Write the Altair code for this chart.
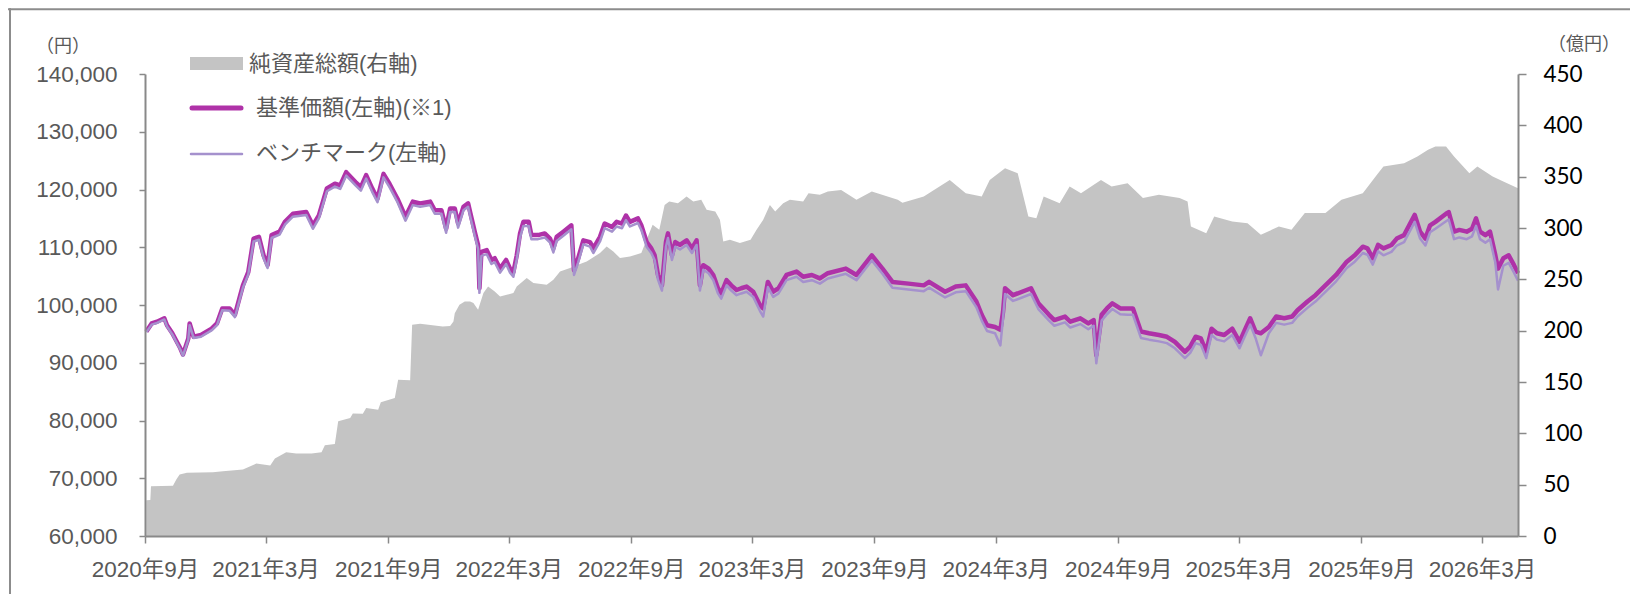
import altair as alt
import pandas as pd

# ---------------- data ----------------
NAV_DATES = [
    "2020-09-03", "2020-09-11", "2020-09-19", "2020-09-30", "2020-10-04", "2020-10-12", "2020-10-24", "2020-10-28",
    "2020-11-05", "2020-11-07", "2020-11-13", "2020-11-24", "2020-12-10", "2020-12-18", "2020-12-26",
    "2021-01-06", "2021-01-14", "2021-01-22", "2021-01-26", "2021-02-03", "2021-02-11", "2021-02-19", "2021-02-26",
    "2021-03-04", "2021-03-10", "2021-03-22", "2021-03-30", "2021-04-11", "2021-05-01", "2021-05-11", "2021-05-20",
    "2021-06-01", "2021-06-13", "2021-06-21", "2021-06-30", "2021-07-14", "2021-07-22", "2021-07-30", "2021-08-08",
    "2021-08-16", "2021-08-25", "2021-09-03", "2021-09-15", "2021-09-27", "2021-10-08", "2021-10-19", "2021-11-03",
    "2021-11-10", "2021-11-20", "2021-11-27", "2021-12-03", "2021-12-10", "2021-12-15", "2021-12-23", "2021-12-30",
    "2022-01-02", "2022-01-09", "2022-01-14", "2022-01-16", "2022-01-19", "2022-01-27", "2022-02-03", "2022-02-08",
    "2022-02-16", "2022-02-25", "2022-03-03", "2022-03-08", "2022-03-13", "2022-03-18", "2022-03-23", "2022-03-31",
    "2022-04-04", "2022-04-14", "2022-04-24", "2022-05-02", "2022-05-07", "2022-05-12", "2022-05-22", "2022-06-03",
    "2022-06-07", "2022-06-13", "2022-06-21", "2022-07-01", "2022-07-06", "2022-07-16", "2022-07-23", "2022-08-03",
    "2022-08-10", "2022-08-18", "2022-08-24", "2022-08-30", "2022-09-11", "2022-09-16", "2022-09-24", "2022-10-01",
    "2022-10-06", "2022-10-11", "2022-10-17", "2022-10-23", "2022-10-26", "2022-11-01", "2022-11-06", "2022-11-13",
    "2022-11-23", "2022-12-01", "2022-12-08", "2022-12-13", "2022-12-18", "2022-12-26", "2023-01-02", "2023-01-09",
    "2023-01-14", "2023-01-22", "2023-01-29", "2023-02-06", "2023-02-13", "2023-02-21", "2023-03-03", "2023-03-13",
    "2023-03-18", "2023-03-25", "2023-04-02", "2023-04-10", "2023-04-22", "2023-05-07", "2023-05-17", "2023-05-30",
    "2023-06-11", "2023-06-23", "2023-07-20", "2023-08-05", "2023-08-28", "2023-09-13", "2023-09-28", "2023-10-22",
    "2023-11-14", "2023-11-22", "2023-12-16", "2024-01-01", "2024-01-16", "2024-02-01", "2024-02-09", "2024-02-17",
    "2024-02-29", "2024-03-08", "2024-03-12", "2024-03-15", "2024-03-27", "2024-04-23", "2024-05-04", "2024-05-20",
    "2024-05-28", "2024-06-13", "2024-06-21", "2024-07-06", "2024-07-18", "2024-07-26", "2024-07-30", "2024-08-07",
    "2024-08-15", "2024-08-23", "2024-09-04", "2024-09-15", "2024-09-23", "2024-10-05", "2024-10-17", "2024-11-01",
    "2024-11-13", "2024-11-25", "2024-12-10", "2024-12-18", "2024-12-26", "2025-01-03", "2025-01-11", "2025-01-19",
    "2025-01-27", "2025-02-07", "2025-02-19", "2025-03-02", "2025-03-10", "2025-03-18", "2025-03-26", "2025-04-03",
    "2025-04-15", "2025-04-26", "2025-05-08", "2025-05-20", "2025-05-28", "2025-06-12", "2025-06-24", "2025-07-25",
    "2025-08-10", "2025-08-22", "2025-09-03", "2025-09-10", "2025-09-18", "2025-09-26", "2025-10-04", "2025-10-16",
    "2025-10-24", "2025-11-04", "2025-11-20", "2025-11-28", "2025-12-06", "2025-12-13", "2025-12-21", "2026-01-06",
    "2026-01-10", "2026-01-18", "2026-01-26", "2026-02-06", "2026-02-14", "2026-02-20", "2026-02-26", "2026-03-06",
    "2026-03-13", "2026-03-21", "2026-03-25", "2026-04-02", "2026-04-10", "2026-04-18", "2026-04-24",
]

NAV_VALUES = [
    95400, 96800, 97100, 97700, 96500, 95100, 92500, 91400,
    94200, 96800, 94500, 94800, 95900, 96800, 99400,
    99400, 98300, 101700, 103400, 105700, 111500, 111800, 108600,
    106900, 112100, 112700, 114400, 115800, 116100, 113800, 115500,
    120200, 121000, 120700, 123000, 121300, 120400, 122500, 120200,
    118400, 122700, 121000, 118400, 115300, 117900, 117600, 117900,
    116400, 116400, 113200, 116700, 116700, 114100, 117000, 117600,
    116100, 112700, 110400, 102900, 109200, 109500, 107800, 108100,
    106300, 107800, 106300, 105700, 108600, 112400, 114400, 114400,
    112100, 112100, 112400, 111500, 109800, 111800, 112700, 113800,
    106000, 108000, 111200, 110900, 109800, 111800, 114100, 113500,
    114400, 114100, 115500, 114400, 115000, 113800, 110900, 109800,
    108600, 105200, 103400, 110900, 112400, 108600, 110900, 110400,
    111200, 109800, 111200, 103400, 106900, 106300, 105200, 102900,
    102000, 104300, 103400, 102600, 102900, 103200, 102300, 100000,
    99400, 104000, 102300, 102900, 105200, 105800, 104900, 105200,
    104600, 105500, 106300, 105200, 108600, 106300, 104000, 103700,
    103400, 104000, 102300, 103200, 103400, 100600, 98300, 96500,
    96200, 95700, 98800, 102900, 101700, 102900, 100300, 98300,
    97400, 98000, 97100, 97700, 96800, 97400, 91300, 98300,
    99400, 100300, 99400, 99400, 99400, 95400, 95100, 94800,
    94500, 93600, 91900, 92800, 94500, 94200, 91900, 95900,
    95100, 94800, 95900, 93600, 95700, 97700, 95400, 95100,
    96200, 98000, 97700, 98000, 99100, 100600, 101700, 105200,
    107500, 108600, 110100, 109800, 108100, 110400, 109800, 110400,
    111500, 112100, 115600, 112700, 111500, 113800, 114400, 115800,
    116100, 112700, 113000, 112700, 113200, 115000, 112700, 112100,
    112700, 108600, 106300, 108100, 108600, 106900, 105500,
]

BENCH_VALUES = [
    95300, 96600, 96900, 97500, 96300, 94900, 92300, 91200,
    94000, 96500, 94300, 94500, 95600, 96500, 99100,
    99000, 97900, 101300, 103000, 105300, 111000, 111300, 108100,
    106400, 111600, 112200, 113900, 115300, 115600, 113200, 115000,
    119700, 120500, 120100, 122400, 120700, 119800, 121900, 119600,
    117800, 122100, 120400, 117800, 114600, 117300, 117000, 117300,
    115800, 115800, 112500, 116100, 116100, 113400, 116400, 117000,
    115400, 112000, 109700, 102100, 108500, 108800, 107100, 107400,
    105600, 107100, 105600, 104900, 107900, 111700, 113700, 113700,
    111400, 111400, 111700, 110800, 109100, 111100, 112000, 113100,
    105200, 107300, 110500, 110100, 109000, 111000, 113300, 112700,
    113600, 113300, 114700, 113600, 114200, 113000, 110100, 109000,
    107800, 104400, 102500, 110100, 111600, 107800, 110100, 109600,
    110400, 109000, 110400, 102500, 106100, 105500, 104300, 102000,
    101100, 103400, 102500, 101700, 102000, 102300, 101400, 99000,
    98000, 103100, 101400, 102000, 104300, 104900, 104000, 104300,
    103700, 104600, 105400, 104300, 107700, 105400, 103000, 102700,
    102400, 103000, 101300, 102200, 102400, 99600, 97300, 95500,
    95100, 93000, 97700, 101900, 100700, 101900, 99300, 97300,
    96400, 97000, 96100, 96700, 95800, 96400, 89900, 97300,
    98400, 99300, 98400, 98300, 98300, 94300, 94000, 93700,
    93400, 92500, 90800, 91700, 93400, 93100, 90800, 94800,
    94000, 93700, 94800, 92500, 94600, 96600, 94300, 91300,
    95100, 96900, 96600, 96900, 98000, 99500, 100600, 104100,
    106400, 107500, 109000, 108700, 107000, 109300, 108600, 109200,
    110300, 110900, 114400, 111500, 110300, 112600, 113200, 114500,
    114800, 111400, 111700, 111400, 111900, 113700, 111400, 110800,
    111400, 107300, 102700, 106800, 107300, 105600, 104200,
]

ASSET_DATES = [
    "2020-09-03", "2020-09-09", "2020-09-10", "2020-10-13", "2020-10-18", "2020-10-23", "2020-11-03", "2020-12-12",
    "2020-12-27", "2021-01-26", "2021-02-15", "2021-03-08", "2021-03-15", "2021-04-01", "2021-04-16", "2021-05-09",
    "2021-05-24", "2021-05-29", "2021-06-13", "2021-06-18", "2021-07-06", "2021-07-10", "2021-07-25", "2021-07-30",
    "2021-08-17", "2021-08-21", "2021-09-11", "2021-09-16", "2021-10-04", "2021-10-07", "2021-10-19", "2021-11-22",
    "2021-12-03", "2021-12-08", "2021-12-10", "2021-12-17", "2021-12-25", "2022-01-02", "2022-01-07", "2022-01-14",
    "2022-01-22", "2022-01-29", "2022-02-08", "2022-02-16", "2022-02-26", "2022-03-08", "2022-03-13", "2022-03-28",
    "2022-04-07", "2022-04-27", "2022-05-07", "2022-05-17", "2022-06-01", "2022-06-13", "2022-06-26", "2022-07-16",
    "2022-07-26", "2022-08-05", "2022-08-15", "2022-08-30", "2022-09-16", "2022-10-03", "2022-10-13", "2022-10-21",
    "2022-10-28", "2022-11-10", "2022-11-23", "2022-12-03", "2022-12-15", "2022-12-23", "2023-01-05", "2023-01-12",
    "2023-01-17", "2023-01-27", "2023-02-11", "2023-02-27", "2023-03-08", "2023-03-18", "2023-03-28", "2023-04-05",
    "2023-04-17", "2023-04-27", "2023-05-17", "2023-05-25", "2023-06-11", "2023-06-23", "2023-07-13", "2023-08-05",
    "2023-08-28", "2023-10-06", "2023-10-13", "2023-11-14", "2023-12-23", "2024-01-16", "2024-02-09", "2024-02-21",
    "2024-03-15", "2024-04-03", "2024-04-19", "2024-05-01", "2024-05-12", "2024-06-05", "2024-06-20", "2024-07-07",
    "2024-08-06", "2024-08-22", "2024-09-15", "2024-10-08", "2024-11-01", "2024-12-02", "2024-12-14", "2024-12-19",
    "2025-01-11", "2025-01-23", "2025-02-19", "2025-03-14", "2025-04-03", "2025-04-30", "2025-05-19", "2025-06-08",
    "2025-07-09", "2025-08-02", "2025-09-03", "2025-09-26", "2025-10-04", "2025-11-04", "2025-11-24", "2025-12-10",
    "2025-12-21", "2026-01-06", "2026-01-18", "2026-02-10", "2026-02-22", "2026-03-17", "2026-04-02", "2026-04-24",
]

ASSET_VALUES = [
    34.8, 35.0, 48.4, 49.0, 55.0, 59.8, 61.5, 62.0,
    63.0, 64.7, 70.5, 68.6, 75.4, 81.5, 80.3, 80.3,
    81.5, 88.3, 89.7, 111.7, 115.0, 119.2, 119.0, 124.7,
    123.0, 130.2, 134.4, 152.2, 151.6, 205.7, 206.7, 204.0,
    204.5, 209.0, 217.0, 225.2, 228.5, 228.4, 226.9, 220.4,
    236.6, 243.1, 238.2, 233.3, 235.0, 236.6, 243.1, 251.2,
    246.4, 244.7, 249.6, 257.7, 261.0, 264.2, 267.4, 275.6,
    282.0, 277.1, 270.7, 272.2, 275.6, 303.1, 298.2, 322.5,
    325.8, 324.2, 330.6, 325.8, 327.4, 317.7, 316.0, 308.0,
    286.8, 288.5, 285.3, 288.5, 298.2, 308.0, 322.5, 316.0,
    324.2, 327.4, 325.8, 333.9, 332.3, 335.5, 337.1, 327.4,
    335.5, 327.4, 324.5, 330.6, 346.7, 333.9, 330.6, 346.7,
    358.3, 353.4, 311.2, 309.6, 330.6, 324.2, 340.4, 333.9,
    346.7, 340.4, 343.7, 329.1, 332.3, 329.1, 325.8, 301.4,
    295.0, 311.2, 306.3, 304.7, 293.4, 301.4, 298.2, 314.5,
    314.5, 327.4, 333.9, 353.4, 359.8, 363.1, 369.6, 376.1,
    379.3, 379.3, 369.6, 353.4, 359.8, 350.1, 345.2, 338.8,
]

X_TICKS = ["2020-09-01", "2021-03-01", "2021-09-01", "2022-03-01", "2022-09-01", "2023-03-01",
           "2023-09-01", "2024-03-01", "2024-09-01", "2025-03-01", "2025-09-01", "2026-03-01"]
X_DOMAIN = ["2020-09-01", "2026-04-24"]
LEFT_TICKS = [60000, 70000, 80000, 90000, 100000, 110000, 120000, 130000, 140000]
RIGHT_TICKS = [0, 50, 100, 150, 200, 250, 300, 350, 400, 450]
LEGEND_LABELS = ["純資産総額(右軸)", "基準価額(左軸)(※1)", "ベンチマーク(左軸)"]
LEFT_UNIT = "（円）"
RIGHT_UNIT = "（億円）"

# ---------------- styling ----------------
W, H = 1373, 462
PAD = {"left": 137, "top": 66, "right": 112, "bottom": 58}
GRAY_AREA = "#C4C4C4"
MAGENTA = "#AF32A8"
LAVENDER = "#A591CD"
AXIS_COLOR = "#898989"
TEXT_GRAY = "#595959"
SANS = "Liberation Sans, Noto Sans CJK JP, sans-serif"


def dt(s):
    y, m, d = (int(p) for p in s.split("-"))
    return alt.DateTime(year=y, month=m, date=d, utc=True)


nav_df = pd.DataFrame({"date": NAV_DATES, "nav": NAV_VALUES, "bench": BENCH_VALUES})
asset_df = pd.DataFrame({"date": ASSET_DATES, "assets": ASSET_VALUES})

x_enc = alt.X(
    "date:T",
    scale=alt.Scale(type="utc", domain=[dt(s) for s in X_DOMAIN]),
    axis=alt.Axis(
        values=[dt(s) for s in X_TICKS],
        labelExpr="utcFormat(datum.value, '%Y') + '年' + (utcmonth(datum.value) + 1) + '月'",
        title=None, grid=False, orient="bottom",
        tickSize=7, tickWidth=1.5, tickColor=AXIS_COLOR,
        domainColor=AXIS_COLOR, domainWidth=2,
        labelFont=SANS, labelFontSize=22.5, labelColor=TEXT_GRAY,
        labelPadding=15, labelOverlap=False, labelFlush=False, zindex=1,
    ),
)

area = alt.Chart(asset_df).mark_area(color=GRAY_AREA, opacity=1).encode(
    x=x_enc,
    y=alt.Y(
        "assets:Q",
        scale=alt.Scale(domain=[0, 450], nice=False, zero=True),
        axis=alt.Axis(
            orient="right", values=RIGHT_TICKS, format=".0f", title=None, grid=False,
            tickSize=8, tickWidth=1.5, tickColor=AXIS_COLOR,
            domainColor=AXIS_COLOR, domainWidth=2,
            labelFont="Lato", labelFontSize=22.5, labelColor="#000000",
            labelPadding=17, zindex=1,
        ),
    ),
)

nav_line = alt.Chart(nav_df).mark_line(color=MAGENTA, strokeWidth=4.5, strokeJoin="round").encode(
    x=x_enc,
    y=alt.Y(
        "nav:Q",
        scale=alt.Scale(domain=[60000, 140000], nice=False, zero=False),
        axis=alt.Axis(
            orient="left", values=LEFT_TICKS, format=",.0f", title=None, grid=False,
            tickSize=6, tickWidth=1.5, tickColor=AXIS_COLOR,
            domainColor=AXIS_COLOR, domainWidth=2,
            labelFont=SANS, labelFontSize=22.5, labelColor=TEXT_GRAY,
            labelPadding=22, zindex=1,
        ),
    ),
)

bench_line = alt.Chart(nav_df).mark_line(color=LAVENDER, strokeWidth=2.5, strokeJoin="round").encode(
    x=x_enc,
    y=alt.Y("bench:Q", scale=alt.Scale(domain=[60000, 140000], nice=False, zero=False), axis=None),
)

# ---------------- manual legend ----------------
leg_df0 = pd.DataFrame({"label": [LEGEND_LABELS[0]]})
leg_df1 = pd.DataFrame({"label": [LEGEND_LABELS[1]]})
leg_df2 = pd.DataFrame({"label": [LEGEND_LABELS[2]]})

leg_rect = alt.Chart(leg_df0).mark_rect(color=GRAY_AREA).encode(
    x=alt.value(45), x2=alt.value(98), y=alt.value(-17), y2=alt.value(-4)
)
leg_nav = alt.Chart(leg_df1).mark_rule(color=MAGENTA, strokeWidth=5, strokeCap="round").encode(
    x=alt.value(47), x2=alt.value(96), y=alt.value(34)
)
leg_bench = alt.Chart(leg_df2).mark_rule(color=LAVENDER, strokeWidth=2.5, strokeCap="round").encode(
    x=alt.value(46), x2=alt.value(97), y=alt.value(80)
)
txt_style = dict(align="left", baseline="middle", font=SANS, fontSize=22, color=TEXT_GRAY)
leg_t0 = alt.Chart(leg_df0).mark_text(**txt_style).encode(text="label:N", x=alt.value(104), y=alt.value(-10))
leg_t1 = alt.Chart(leg_df1).mark_text(**txt_style).encode(text="label:N", x=alt.value(111), y=alt.value(34))
leg_t2 = alt.Chart(leg_df2).mark_text(**txt_style).encode(text="label:N", x=alt.value(111), y=alt.value(79))

# ---------------- axis unit labels ----------------
unit_df = pd.DataFrame({"l": [LEFT_UNIT], "r": [RIGHT_UNIT]})
unit_style = dict(align="center", baseline="middle", font="Noto Sans CJK JP", fontSize=18, color=TEXT_GRAY)
unit_left = alt.Chart(unit_df).mark_text(**unit_style).encode(text="l:N", x=alt.value(-82), y=alt.value(-27))
unit_right = alt.Chart(unit_df).mark_text(**unit_style).encode(text="r:N", x=alt.value(1439), y=alt.value(-29))

# ---------------- outer frame (top and left edges) ----------------
frame_top = alt.Chart(unit_df).mark_rule(color="#8c8c8c", strokeWidth=2).encode(
    x=alt.value(-PAD["left"]), x2=alt.value(W + PAD["right"]), y=alt.value(-64.7)
)
frame_left = alt.Chart(unit_df).mark_rule(color="#8c8c8c", strokeWidth=2).encode(
    x=alt.value(-135), y=alt.value(-65.7), y2=alt.value(H + PAD["bottom"])
)

chart = alt.layer(
    area, nav_line, bench_line,
    leg_rect, leg_nav, leg_bench, leg_t0, leg_t1, leg_t2,
    unit_left, unit_right, frame_top, frame_left,
).resolve_scale(y="independent").properties(
    width=W, height=H,
    autosize=alt.AutoSizeParams(type="none"),
    padding=PAD,
    background="white",
).configure_view(stroke=None)

chart.save("out.html", embed_options={"renderer": "svg", "actions": False})
